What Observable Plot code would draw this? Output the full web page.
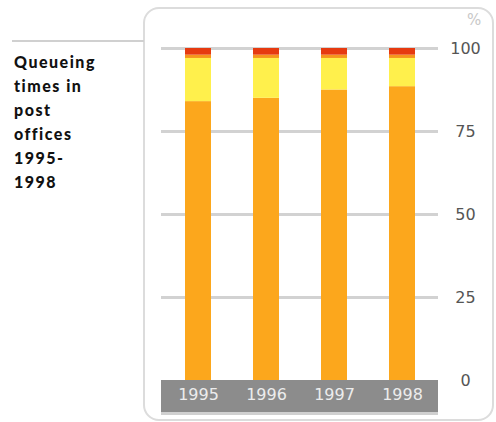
<!DOCTYPE html>
<html>
<head>
<meta charset="utf-8">
<script src="https://cdn.jsdelivr.net/npm/d3@7"></script>
<script src="https://cdn.jsdelivr.net/npm/@observablehq/plot@0.6"></script>
<style>
  html, body { margin: 0; padding: 0; background: #fff; }
  #wrap { position: relative; width: 496px; height: 422px; overflow: hidden; font-family: "DejaVu Sans", sans-serif; }
  #panel { position: absolute; left: 143px; top: 7px; width: 347px; height: 410px; border: 2px solid #dcdcdc; border-radius: 16px; box-sizing: content-box; }
  #band { position: absolute; left: 161px; top: 380px; width: 277px; height: 32px; background: #8c8c8c; box-shadow: 0 3px 0 #d0d0d0; }
  #hline { position: absolute; left: 12px; top: 40px; width: 132px; height: 2px; background: #d0d0d0; }
  #title { position: absolute; left: 14px; top: 50px; width: 128px; font-family: "Lato", "DejaVu Sans", sans-serif; font-weight: 900; font-size: 16px; line-height: 24px; letter-spacing: 1.5px; color: #111; }
  #pct { position: absolute; left: 467px; top: 11px; font-size: 15px; color: #c8c8c8; }
  #chart { position: absolute; left: 0; top: 0; }
</style>
</head>
<body>
<div id="wrap">
  <div id="panel"></div>
  <div id="hline"></div>
  <div id="band"></div>
  <div id="title">Queueing<br>times in<br>post<br>offices<br>1995-<br>1998</div>
  <div id="pct">%</div>
  <div id="chart"></div>
</div>
<script>
const years = ["1995", "1996", "1997", "1998"];
const categories = ["short", "medium", "long", "very long"];
const shortShare = [84, 85, 87.5, 88.5];
const mediumShare = [13, 12, 9.5, 8.5];
const longShare = [1, 1, 1, 1];
const veryLongShare = [2, 2, 2, 2];
const colors = ["#fca71c", "#fff04c", "#f6961c", "#e63a10"];
const yTicks = [0, 25, 50, 75, 100];
const gridTicks = [25, 50, 75, 100];

const series = [shortShare, mediumShare, longShare, veryLongShare];
const data = [];
years.forEach((yr, i) => {
  categories.forEach((c, j) => data.push({ year: yr, cat: c, value: series[j][i] }));
});

const chart = Plot.plot({
  width: 496,
  height: 422,
  marginLeft: 161,
  marginRight: 58,
  marginTop: 48,
  marginBottom: 42,
  style: { background: "transparent", fontFamily: "DejaVu Sans, sans-serif" },
  x: { domain: years, paddingInner: 0.62, paddingOuter: 0.34, label: null },
  y: { domain: [0, 100], label: null },
  color: { domain: categories, range: colors },
  marks: [
    Plot.ruleY(gridTicks, { stroke: "#d2d2d2", strokeWidth: 3 }),
    Plot.barY(data, Plot.stackY({ x: "year", y: "value", fill: "cat", order: categories })),
    Plot.axisX({ anchor: "bottom", tickSize: 0, tickPadding: 8, fontSize: 16, color: "#ececec" }),
    Plot.axisY(yTicks, { anchor: "right", tickSize: 0, tickPadding: 27, textAnchor: "middle", fontSize: 16, color: "#555" })
  ]
});
document.getElementById("chart").appendChild(chart);
</script>
</body>
</html>
